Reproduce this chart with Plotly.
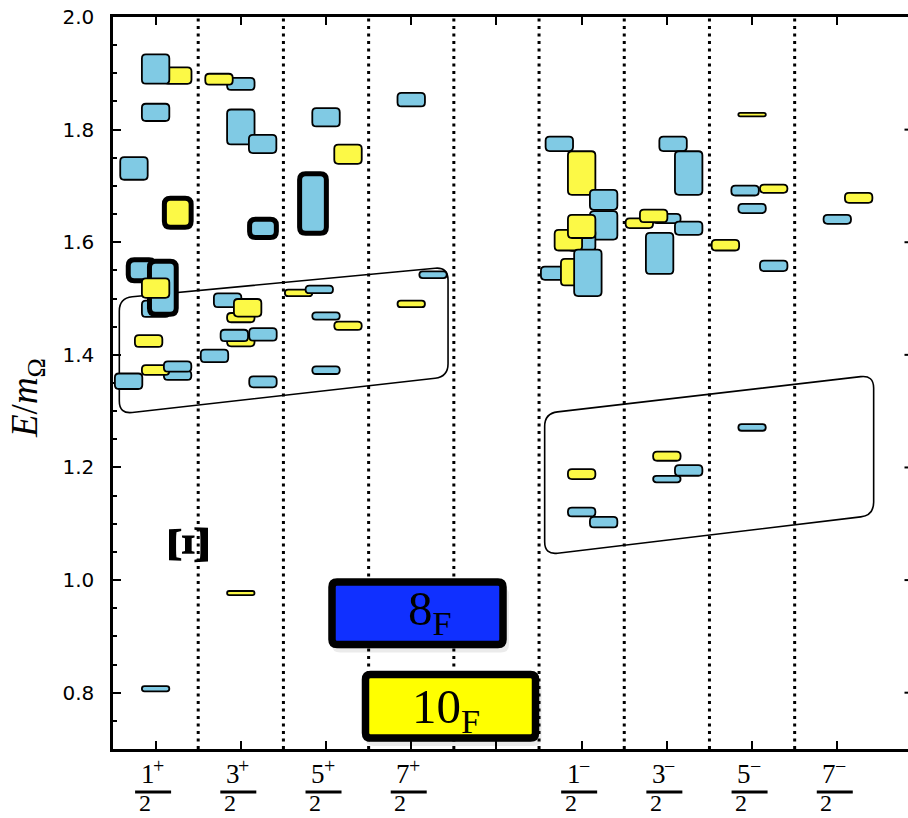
import math
import plotly.graph_objects as go

# ---------------- categories / tick labels ----------------
JP_NUMER = ["1", "3", "5", "7", "", "1", "3", "5", "7"]
JP_PARITY = ["+", "+", "+", "+", "", "\u2212", "\u2212", "\u2212", "\u2212"]
JP_DENOM = ["2", "2", "2", "2", "", "2", "2", "2", "2"]
Y_TICKS = [0.8, 1.0, 1.2, 1.4, 1.6, 1.8, 2.0]
Y_TICK_TEXT = ["0.8", "1.0", "1.2", "1.4", "1.6", "1.8", "2.0"]

# ---------------- levels (drawing order) ----------------
# column index, offset inside column, energy, half-uncertainty, flavour multiplet, highlighted
BOX_COL = [0, 0, 0, 0, 0, 0, 0, 0, 0, 0, 0, 0, 0, 0, 0,
           1, 1, 1, 1, 1, 1, 1, 1, 1, 1, 1, 1, 1, 1,
           2, 2, 2, 2, 2, 2, 2, 2,
           3, 3, 3,
           5, 5, 5, 5, 5, 5, 5, 5, 5, 5, 5, 5, 5,
           6, 6, 6, 6, 6, 6, 6, 6, 6, 6,
           7, 7, 7, 7, 7, 7, 7,
           8, 8]
BOX_OFF = [0.26, 0.0, 0.0, -0.254, 0.26, 0.0, -0.164, 0.085, 0.0, -0.082, 0.258, 0.0, 0.258, -0.317, 0.0,
           0.0, -0.256, 0.0, 0.256, 0.26, -0.155, 0.0, 0.08, 0.0, -0.076, 0.26, -0.309, 0.26, 0.0,
           0.0, 0.258, -0.153, -0.322, -0.079, 0.0, 0.258, 0.0,
           0.0, 0.256, 0.0,
           -0.262, 0.0, 0.258, 0.258, 0.0, -0.156, 0.0, -0.317, -0.082, 0.073, 0.0, 0.0, 0.258,
           0.073, 0.256, -0.323, 0.0, -0.155, 0.256, -0.085, 0.0, 0.0, 0.256,
           0.0, -0.082, 0.254, 0.0, -0.313, 0.254, 0.0,
           0.251, 0.0]
BOX_E = [1.896, 1.9076, 1.8306, 1.731, 1.6524, 1.4818, 1.5502, 1.5191, 1.5185, 1.4246, 1.3636, 1.3731, 1.3792, 1.3531, 0.8071,
         1.8811, 1.8895, 1.8047, 1.7746, 1.6246, 1.4969, 1.4661, 1.4836, 1.4246, 1.4344, 1.4364, 1.398, 1.352, 0.9769,
         1.8219, 1.7564, 1.6689, 1.51, 1.5162, 1.469, 1.4516, 1.3727,
         1.8533, 1.5422, 1.4904,
         1.7748, 1.7229, 1.6753, 1.63, 1.6044, 1.6036, 1.628, 1.5449, 1.5468, 1.5456, 1.1882, 1.1209, 1.1028,
         1.7748, 1.7229, 1.6338, 1.6421, 1.6468, 1.6249, 1.5802, 1.2201, 1.1793, 1.1947,
         1.8267, 1.6918, 1.6951, 1.6599, 1.5947, 1.558, 1.2711,
         1.6788, 1.6406]
BOX_DE = [0.0163, 0.0276, 0.0169, 0.0216, 0.0258, 0.016, 0.0187, 0.0471, 0.0189, 0.0122, 0.0098, 0.0104, 0.0107, 0.0154, 0.0062,
          0.0123, 0.0113, 0.0326, 0.0178, 0.0163, 0.0139, 0.0098, 0.0172, 0.011, 0.0118, 0.0128, 0.0127, 0.0112, 0.0053,
          0.0178, 0.0187, 0.0529, 0.0074, 0.0083, 0.008, 0.0089, 0.0083,
          0.0137, 0.0076, 0.0074,
          0.0145, 0.0403, 0.0193, 0.0268, 0.0213, 0.0199, 0.0221, 0.0133, 0.0251, 0.0428, 0.0104, 0.0094, 0.0109,
          0.0145, 0.0403, 0.0103, 0.0098, 0.0127, 0.0133, 0.038, 0.0098, 0.0074, 0.011,
          0.0048, 0.0104, 0.0089, 0.0098, 0.011, 0.0109, 0.0075,
          0.0104, 0.0095]
BOX_FLAVOR = ["10", "8", "8", "8", "10", "8", "8", "8", "10", "10", "8", "10", "8", "8", "8",
              "8", "10", "8", "8", "8", "8", "10", "10", "10", "8", "8", "8", "8", "10",
              "8", "10", "8", "10", "8", "8", "10", "8",
              "8", "8", "10",
              "8", "10", "8", "8", "8", "10", "10", "8", "10", "8", "10", "8", "8",
              "8", "8", "10", "8", "10", "8", "8", "10", "8", "8",
              "10", "8", "10", "8", "10", "8", "8",
              "10", "8"]
BOX_BOLD = [False, False, False, False, True, False, True, True, False, False, False, False, False, False, False,
            False, False, False, False, True, False, False, False, False, False, False, False, False, False,
            False, False, True, False, False, False, False, False,
            False, False, False,
            False, False, False, False, False, False, False, False, False, False, False, False, False,
            False, False, False, False, False, False, False, False, False, False,
            False, False, False, False, False, False, False,
            False, False]

# highlighted groups: (x_left, x_right), top edge (left,right), bottom edge (left,right)
GROUP_X = [(-0.426, 3.432), (4.566, 8.427)]
GROUP_TOP = [(1.501, 1.556), (1.296, 1.364)]
GROUP_BOT = [(1.295, 1.361), (1.045, 1.115)]

LEGEND_NAMES = ["8", "10"]

# ---------------- styling / geometry ----------------
W, H = 908, 818
ML, MR, MT, MB = 113, 0, 17, 69
PW, PH = W - ML - MR, H - MT - MB
X_RANGE = (-0.5, 8.83)
Y_RANGE = (0.7, 2.0)
SX = PW / (X_RANGE[1] - X_RANGE[0])
SY = PH / (Y_RANGE[1] - Y_RANGE[0])

COLORS = {"8": "#80CAE4", "10": "#FCF946"}
LEGEND_FILL = {"8": "#1030FF", "10": "#FFFF00"}
SERIF = "Liberation Serif"


def px2x(p):
    return X_RANGE[0] + (p - ML) / SX


def px2y(p):
    return Y_RANGE[1] - (p - MT) / SY


def py2paper(p):
    return (H - MB - p) / PH


def rounded_path(pts, r):
    P = [(x * SX, y * SY) for x, y in pts]
    n = len(P)
    corners = []
    for i in range(n):
        p0, p1, p2 = P[i - 1], P[i], P[(i + 1) % n]
        d1 = (p0[0] - p1[0], p0[1] - p1[1])
        d2 = (p2[0] - p1[0], p2[1] - p1[1])
        l1 = math.hypot(*d1)
        l2 = math.hypot(*d2)
        rr = min(r, l1 / 2, l2 / 2)
        a = (p1[0] + d1[0] / l1 * rr, p1[1] + d1[1] / l1 * rr)
        b = (p1[0] + d2[0] / l2 * rr, p1[1] + d2[1] / l2 * rr)
        corners.append((a, p1, b))

    def f(pt):
        return "%.5f,%.5f" % (pt[0] / SX, pt[1] / SY)

    s = "M " + f(corners[0][0])
    for i, (a, c, b) in enumerate(corners):
        if i > 0:
            s += " L " + f(a)
        s += " Q " + f(c) + " " + f(b)
    return s + " Z"


shapes = []

# dotted separators
for i in range(8):
    shapes.append(dict(type="line", xref="x", yref="paper", x0=i + 0.5, x1=i + 0.5, y0=0, y1=1,
                       line=dict(color="black", width=3, dash="3px,4.5px"), layer="below"))

# right-edge tick stubs (right spine lies just outside the picture)
for v in Y_TICKS[:-1]:
    shapes.append(dict(type="line", xref="paper", yref="y", x0=1 - 3.5 / PW, x1=1, y0=v, y1=v,
                       line=dict(color="black", width=2)))

# group outlines
for (xl, xr), (tl, tr), (bl, br) in zip(GROUP_X, GROUP_TOP, GROUP_BOT):
    pts = [(xl, tl), (xr, tr), (xr, br), (xl, bl)]
    shapes.append(dict(type="path", xref="x", yref="y", path=rounded_path(pts, 13),
                       line=dict(color="black", width=1.6), fillcolor="rgba(0,0,0,0)"))

# level boxes
for c, off, e, de, fl, bold in zip(BOX_COL, BOX_OFF, BOX_E, BOX_DE, BOX_FLAVOR, BOX_BOLD):
    if bold:
        hw, hh, lw, r = 0.157, de, 5.0, 6
    else:
        hw, hh, lw, r = 0.161, max(de - 0.9 / SY, 0.8 / SY), 1.8, 4
    x0, x1 = c + off - hw, c + off + hw
    y0, y1 = e - hh, e + hh
    pts = [(x0, y1), (x1, y1), (x1, y0), (x0, y0)]
    shapes.append(dict(type="path", xref="x", yref="y", path=rounded_path(pts, r),
                       line=dict(color="black", width=lw), fillcolor=COLORS[fl]))

# legend boxes (flavour multiplets)
LEG_BOX_PX = {"8": (332, 582, 503, 644.5), "10": (365.5, 674.5, 535.5, 738)}
LEG_TXT_PX = {"8": (430, 611), "10": (446, 709)}
annotations = []
for name in LEGEND_NAMES:
    l, t, rgt, b = LEG_BOX_PX[name]
    for k, (dx, dy, grow, alpha) in enumerate([(3, 5, 3, 0.08), (2, 3, 1, 0.12)]):
        pts = [(px2x(l + dx - grow), px2y(t + dy)), (px2x(rgt + dx + grow), px2y(t + dy)),
               (px2x(rgt + dx + grow), px2y(b + dy + grow)), (px2x(l + dx - grow), px2y(b + dy + grow))]
        shapes.append(dict(type="path", xref="x", yref="y", path=rounded_path(pts, 8),
                           line=dict(width=0), fillcolor="rgba(0,0,0,%.2f)" % alpha))
    pts = [(px2x(l), px2y(t)), (px2x(rgt), px2y(t)), (px2x(rgt), px2y(b)), (px2x(l), px2y(b))]
    shapes.append(dict(type="path", xref="x", yref="y", path=rounded_path(pts, 5),
                       line=dict(color="black", width=7.5), fillcolor=LEGEND_FILL[name]))
    tx, ty = LEG_TXT_PX[name]
    annotations.append(dict(x=px2x(tx), y=px2y(ty), xref="x", yref="y", showarrow=False,
                            text=name + "<sub>F</sub>", xanchor="center", yanchor="middle",
                            font=dict(family=SERIF, size=49, color="black")))

# x tick labels as stacked fractions
for i, (nu, pa, de) in enumerate(zip(JP_NUMER, JP_PARITY, JP_DENOM)):
    if not nu:
        continue
    shapes.append(dict(type="line", xref="x", yref="paper",
                       x0=i - 20.5 / SX, x1=i + 15.5 / SX, y0=py2paper(792), y1=py2paper(792),
                       line=dict(color="black", width=3)))
    annotations.append(dict(x=i - 8 / SX, y=py2paper(774), xref="x", yref="paper", showarrow=False,
                            text=nu, xanchor="center", yanchor="middle",
                            font=dict(family=SERIF, size=27, color="black")))
    annotations.append(dict(x=i + 3 / SX, y=py2paper(766), xref="x", yref="paper", showarrow=False,
                            text=pa, xanchor="center", yanchor="middle",
                            font=dict(family=SERIF, size=20, color="black")))
    annotations.append(dict(x=i - 11 / SX, y=py2paper(803.5), xref="x", yref="paper", showarrow=False,
                            text=de, xanchor="center", yanchor="middle",
                            font=dict(family=SERIF, size=24, color="black")))

# y axis title
annotations.append(dict(x=(27 - ML) / PW, y=py2paper(398), xref="paper", yref="paper", showarrow=False,
                        text="<i>E</i>/<i>m</i><sub>\u03a9</sub>", textangle=-90,
                        xanchor="center", yanchor="middle",
                        font=dict(family=SERIF, size=37, color="black")))

# Xi label
annotations.append(dict(x=px2x(188), y=px2y(545), xref="x", yref="y", showarrow=False,
                        text="<b>\u039e</b>", textangle=-90, xanchor="center", yanchor="middle",
                        font=dict(family=SERIF, size=60, color="black")))

fig = go.Figure()
fig.add_trace(go.Scatter(x=[None], y=[None], mode="markers", showlegend=False, hoverinfo="skip"))

fig.update_layout(
    width=W, height=H, autosize=False,
    margin=dict(l=ML, r=MR, t=MT, b=MB, pad=0),
    paper_bgcolor="white", plot_bgcolor="white",
    showlegend=False,
    shapes=shapes, annotations=annotations,
    xaxis=dict(range=list(X_RANGE), showgrid=False, zeroline=False, showline=True, linewidth=2.5,
               linecolor="black", mirror="ticks", ticks="inside", ticklen=8, tickwidth=2,
               tickcolor="black", tickvals=list(range(9)), showticklabels=False, fixedrange=True),
    yaxis=dict(range=list(Y_RANGE), showgrid=False, zeroline=False, showline=True, linewidth=2.5,
               linecolor="black", ticks="inside", ticklen=8, tickwidth=2, tickcolor="black",
               tickvals=Y_TICKS, ticktext=Y_TICK_TEXT, ticklabelstandoff=12,
               tickfont=dict(family="DejaVu Sans", size=20, color="black"),
               minor=dict(ticks="inside", ticklen=4, tickwidth=1.5, tickcolor="black", dtick=0.05, tick0=0.7),
               fixedrange=True),
)

fig.write_html("out.html", config={"displayModeBar": False})
